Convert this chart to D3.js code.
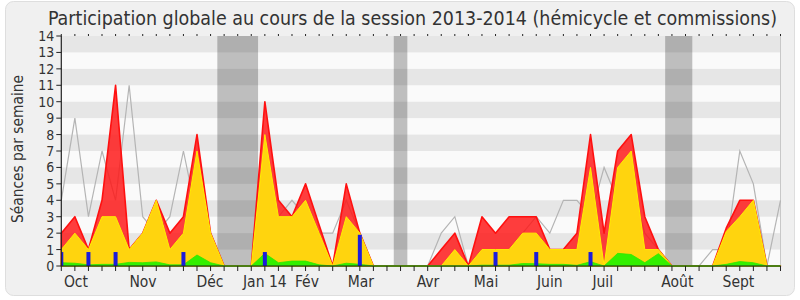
<!DOCTYPE html>
<html>
<head>
<meta charset="utf-8">
<script src="https://cdn.jsdelivr.net/npm/d3@7"></script>
<style>
  html, body { margin: 0; padding: 0; background: #ffffff; }
  svg { display: block; }
  text { font-family: "DejaVu Sans Condensed", "DejaVu Sans", sans-serif; font-stretch: condensed; fill: #333; }
</style>
</head>
<body>
<svg id="chart" width="800" height="300"></svg>
<script>
// ---- data (week index 0..53) ----
const weeks = d3.range(0, 54);
const totalPresence = [2,3,1,4,11,1,2,4,2,3,8,2,0,0,0,10,4,3,5,2.5,0,5,2,0,0,0,0,0,1,2,0,3,2,3,3,3,1,1,2,8,2,7,8,3,1,0,0,0,0,2.3,4,4,0,0];
const hemicycle     = [1,2,1,3,3,1,2,4,1,2,7,2,0,0,0,8,3,3,4,2,0,3,2,0,0,0,0,0,0,1,0,1,1,1,2,2,1,1,1,6,0,6,7,1,1,0,0,0,0,2.1,3,4,0,0];
const interventions = [0.2,0.17,0.07,0.1,0.1,0.22,0.2,0.25,0.07,0.07,0.67,0.2,0,0,0,0.77,0.2,0.3,0.3,0.07,0,0.17,0.1,0,0,0,0,0,0,0,0,0.05,0.05,0.05,0.15,0.14,0.1,0.1,0.04,0.26,0,0.77,0.7,0.2,0.75,0,0,0,0,0.1,0.27,0.2,0,0];
const medianLine    = [4,9,3,7,4,11,3,2,3,7,3,2,0,0,0,1,3,4,3,2,2,4,2,0,0,0,0,0,2,3,0,1,1,1,2,3,2,4,4,3,6,4,5,2,1,0,0,0,1,1,7,5,0,4];
const questionWeeks = [0,2,4,9,15,22,32,35,39];
const questionValues = [0.85,0.85,0.85,0.85,0.85,1.9,0.85,0.85,0.85];
const vacations = [[12,14],[25,25],[45,46]];
const monthLabels = ["Oct","Nov","Déc","Jan 14","Fév","Mar","Avr","Mai","Juin","Juil","Août","Sept"];
const monthPos    = [1.08,6.02,10.96,15.0,18.1,22.08,27.02,31.3,36.0,39.9,45.4,49.9];
const yTicks = d3.range(0, 15);
const title = "Participation globale au cours de la session 2013-2014 (hémicycle et commissions)";
const yLabel = "Séances par semaine";

// ---- layout ----
const svg = d3.select("#chart");
const L = 61.3, R = 780.5, T = 36, B = 266;
const x = d3.scaleLinear().domain([0, 53]).range([L, R]);
const y = d3.scaleLinear().domain([0, 14]).range([B, T]);

function fitWidth(sel, target) {
  const n = sel.node();
  const w = n.getComputedTextLength();
  const fs = parseFloat(sel.attr("font-size"));
  if (w > 0) sel.attr("font-size", (fs * target / w).toFixed(2));
}

// frame
svg.append("rect").attr("x", 5.5).attr("y", 1.5).attr("width", 789).attr("height", 294)
  .attr("rx", 8).attr("fill", "#f0f0f0").attr("stroke", "#dedede");

// plot background
svg.append("rect").attr("x", L).attr("y", T).attr("width", R - L).attr("height", B - T).attr("fill", "#fafafa");

// vacation bands
svg.append("g").selectAll("rect").data(vacations).join("rect")
  .attr("x", d => x(d[0] - 0.5)).attr("width", d => x(d[1] + 0.5) - x(d[0] - 0.5))
  .attr("y", T).attr("height", B - T).attr("fill", "#bebebe");

// stripes
svg.append("g").selectAll("rect").data(yTicks.filter(v => v % 2 === 1 && v < 14)).join("rect")
  .attr("x", L).attr("width", R - L)
  .attr("y", d => y(d + 1)).attr("height", d => y(d) - y(d + 1))
  .attr("fill", "rgba(0,0,0,0.08)");

// right border line
svg.append("line").attr("x1", R).attr("x2", R).attr("y1", T).attr("y2", B).attr("stroke", "#c8c8c8");

// median grey line
const line = d3.line().x((d, i) => x(weeks[i])).y(d => y(d));
svg.append("path").datum(medianLine).attr("d", line).attr("fill", "none")
  .attr("stroke", "#b4b4b4").attr("stroke-width", 1.2);

// areas
const area = d3.area().x((d, i) => x(weeks[i])).y0(y(0)).y1(d => y(d));
svg.append("path").datum(totalPresence).attr("d", area)
  .attr("fill", "rgba(255,20,20,0.82)").attr("stroke", "#ff1010").attr("stroke-width", 1.6).attr("stroke-linejoin", "round");
svg.append("path").datum(hemicycle).attr("d", area)
  .attr("fill", "#ffd40e").attr("stroke", "#ffee00").attr("stroke-width", 1);
svg.append("path").datum(interventions).attr("d", area)
  .attr("fill", "#33f000").attr("stroke", "#2ee600").attr("stroke-width", 0.8);

// question bars
svg.append("g").selectAll("rect").data(questionWeeks).join("rect")
  .attr("x", d => Math.max(L, x(d) - 2)).attr("width", d => x(d) - 2 < L ? 2 + x(d) - L : 4)
  .attr("y", (d, i) => y(questionValues[i])).attr("height", (d, i) => y(0) - y(questionValues[i]))
  .attr("fill", "#1c1cdc");

// bottom axis
const gx = svg.append("g").attr("transform", `translate(0,${B})`);
gx.append("line").attr("x1", L).attr("x2", R).attr("stroke", "#222").attr("stroke-width", 1.2);
gx.selectAll("line.t").data(weeks).join("line").attr("class", "t")
  .attr("x1", d => x(d)).attr("x2", d => x(d)).attr("y1", 0).attr("y2", 5).attr("stroke", "#222");
gx.selectAll("text").data(monthLabels).join("text")
  .attr("x", (d, i) => x(monthPos[i])).attr("y", 21).attr("text-anchor", "middle")
  .attr("font-size", 15.5).text(d => d);

// top ticks
svg.append("g").selectAll("line").data(weeks).join("line")
  .attr("x1", d => x(d)).attr("x2", d => x(d)).attr("y1", T - 2).attr("y2", T).attr("stroke", "#222");

// left axis
const gy = svg.append("g").attr("transform", `translate(${L},0)`);
gy.append("line").attr("y1", T).attr("y2", B).attr("stroke", "#222").attr("stroke-width", 1.2);
gy.selectAll("line.t").data(yTicks).join("line").attr("class", "t")
  .attr("x1", -5).attr("x2", 0).attr("y1", d => y(d)).attr("y2", d => y(d)).attr("stroke", "#222");
gy.selectAll("text").data(yTicks).join("text")
  .attr("x", -7).attr("y", d => y(d)).attr("dy", "0.36em").attr("text-anchor", "end")
  .attr("font-size", 14).text(d => d);

// y label
const yl = svg.append("text").attr("transform", "translate(23,149) rotate(-90)").attr("text-anchor", "middle")
  .attr("font-size", 15).text(yLabel);
fitWidth(yl, 148);

// title
const tt = svg.append("text").attr("x", 412.5).attr("y", 25).attr("text-anchor", "middle")
  .attr("font-size", 18.5).text(title);
fitWidth(tt, 729);
</script>
</body>
</html>
